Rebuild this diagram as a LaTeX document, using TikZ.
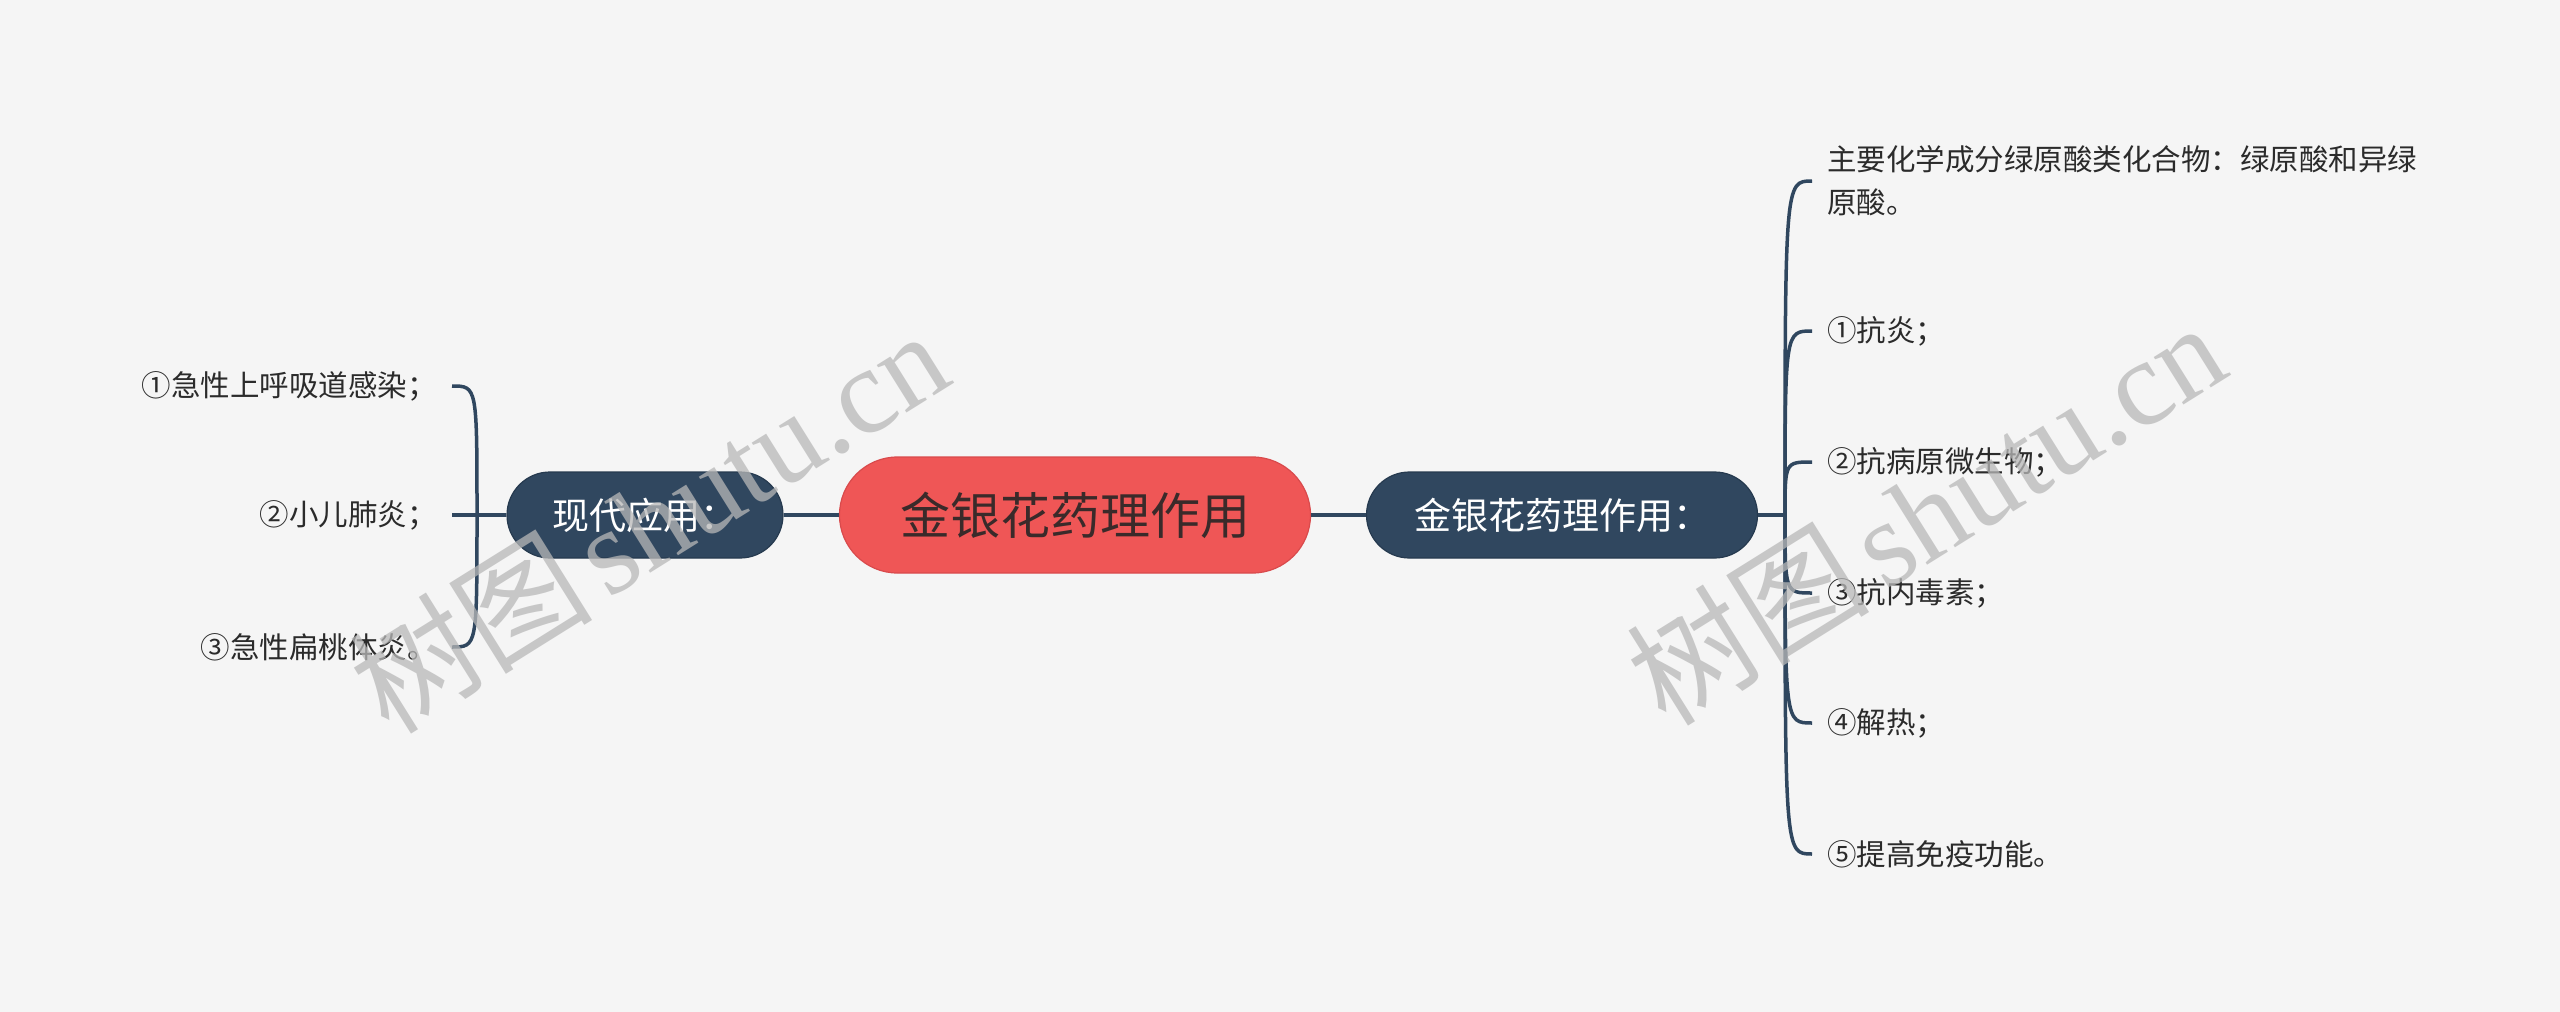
\documentclass[tikz,border=0pt]{standalone}
\usepackage{fontspec}
\setmainfont{Noto Sans CJK SC}
\newfontfamily\cjkfont{Noto Sans CJK SC}
\newfontfamily\wmlat{Liberation Serif}
\definecolor{bg}{HTML}{F5F5F5}
\definecolor{navy}{HTML}{30475F}
\definecolor{navyedge}{HTML}{263A4F}
\definecolor{redfill}{HTML}{EF5656}
\definecolor{rededge}{HTML}{D94A4C}
\definecolor{redtext}{HTML}{3A2A2A}
\definecolor{leaftext}{HTML}{2B2B2B}
\definecolor{wm}{HTML}{B8B8B8}
\tikzset{
  conn/.style={draw=navy, line width=3.5pt},
  rootbox/.style={fill=redfill, draw=rededge, line width=1.2pt, rounded corners=58pt,
    minimum width=471pt, minimum height=116pt, text=redtext,
    font=\cjkfont\fontsize{50pt}{60pt}\selectfont, inner sep=0pt},
  subbox/.style={fill=navy, draw=navyedge, line width=1.2pt, rounded corners=43pt,
    minimum height=86pt, text=white,
    font=\cjkfont\fontsize{37pt}{44pt}\selectfont, inner sep=0pt},
  leaf/.style={text=leaftext, font=\cjkfont\fontsize{29.5pt}{43pt}\selectfont,
    inner xsep=15pt, inner ysep=2pt, align=left},
  wmark/.style={text=wm, opacity=0.75, rotate=32}
}
\begin{document}
\begin{tikzpicture}[x=1pt,y=-1pt]
\fill[bg] (0,0) rectangle (2560,1012);
\useasboundingbox (0,0) rectangle (2560,1012);

% nodes
\node[rootbox] (c) at (1075,515) {金银花药理作用};
\node[subbox, minimum width=276pt] (L) at (645,515) {现代应用：};
\node[subbox, minimum width=391pt] (R) at (1562,515) {金银花药理作用：};

\node[leaf, anchor=east] (l1) at (452,386) {①急性上呼吸道感染；};
\node[leaf, anchor=east] (l2) at (452,515) {②小儿肺炎；};
\node[leaf, anchor=east] (l3) at (452,647) {③急性扁桃体炎。};

\node[leaf, anchor=west] (r0) at (1812,181) {主要化学成分绿原酸类化合物：绿原酸和异绿\\原酸。};
\node[leaf, anchor=west] (r1) at (1812,331) {①抗炎；};
\node[leaf, anchor=west] (r2) at (1812,462) {②抗病原微生物；};
\node[leaf, anchor=west] (r3) at (1812,593) {③抗内毒素；};
\node[leaf, anchor=west] (r4) at (1812,723) {④解热；};
\node[leaf, anchor=west] (r5) at (1812,854) {⑤提高免疫功能。};

\coordinate (lj) at (477,515);
\coordinate (rj) at (1785,515);

% connectors
\draw[conn] (c.west) -- (L.east);
\draw[conn] (c.east) -- (R.west);
\draw[conn] (L.west) -- (l2.east);
\draw[conn] (lj) .. controls (lj |- l1.east) .. (l1.east);
\draw[conn] (lj) .. controls (lj |- l3.east) .. (l3.east);
\draw[conn] (R.east) -- (rj);
\foreach \n in {r0,r1,r2,r3,r4,r5}{
  \draw[conn] (rj) .. controls (rj |- \n.west) .. (\n.west);
}

% watermarks
\node[wmark] (w1) at (648,520) {\cjkfont\fontsize{122pt}{126pt}\selectfont 树图\hspace{14pt}\wmlat shutu.cn};
\node[wmark] (w2) at (1925,512) {\cjkfont\fontsize{122pt}{126pt}\selectfont 树图\hspace{14pt}\wmlat shutu.cn};
\end{tikzpicture}
\end{document}
